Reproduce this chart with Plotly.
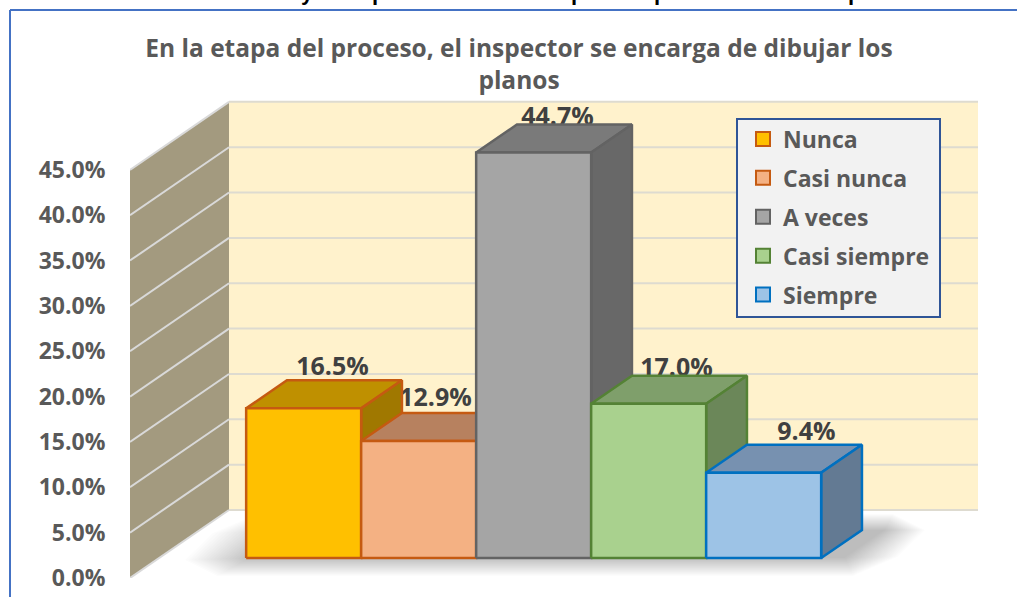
import plotly.graph_objects as go

# datos
CATEGORIES = ['Nunca', 'Casi nunca', 'A veces', 'Casi siempre', 'Siempre']
VALUES = [16.5, 12.9, 44.7, 17.0, 9.4]
TICK_VALUES = [0, 5, 10, 15, 20, 25, 30, 35, 40, 45]
TICK_LABELS = ['0.0%', '5.0%', '10.0%', '15.0%', '20.0%', '25.0%', '30.0%', '35.0%', '40.0%', '45.0%']
CUT_LETTERS = ['y', 'p', 'p', 'p', 'p']
TITLE = 'En la etapa del proceso, el inspector se encarga de dibujar los<br>planos'

# estilos de cada cara
FRONT = ['#FFC000', '#F4B183', '#A5A5A5', '#A9D18E', '#9DC3E6']
TOP = ['#BF9000', '#B7815F', '#7A7A7A', '#7F9F6B', '#7791B0']
SIDE = ['#A07800', '#93674C', '#686868', '#6B8759', '#637A93']
EDGE = ['#C55A11', '#C55A11', '#636363', '#548235', '#0070C0']

# escala: pixeles por unidad de los ejes
W, H = 1017, 597
LEFT, BOTTOM = 130, 19
PX_X, PX_Y = 115.0, 9.07
WALL_DX, WALL_DY = 99 / PX_X, 68 / PX_Y
WALL_WIDTH = 6.513
BAR_START = 0.757
DEPTH_FRONT, DEPTH_BACK = 0.294, 0.706
LABEL_NUDGE_X = [-12, -24, -17, -13, 2]
LABEL_NUDGE_Y = [12, 13, 6, 6, 11]
CUT_LETTER_X = [307, 378, 577, 660, 854]
SHADOW_STEPS = 22


def project(x, y, depth):
    return x + depth * WALL_DX, y + depth * WALL_DY


def face(points, fill, line=None, width=0):
    xs = [p[0] for p in points]
    ys = [p[1] for p in points]
    return go.Scatter(x=xs + xs[:1], y=ys + ys[:1], mode='lines', fill='toself', fillcolor=fill,
                      line=dict(color=line or fill, width=width), showlegend=False, hoverinfo='skip')


def wall_line(points, color):
    return go.Scatter(x=[p[0] for p in points], y=[p[1] for p in points], mode='lines',
                      line=dict(color=color, width=2), showlegend=False, hoverinfo='skip')


def shadow_points(l, r, b, u, s, c):
    # paralelogramo de piso con esquinas recortadas, en pixeles
    pts = [(l + c, b), (r - c, b), (r + c * 0.4, b - c * 0.6), (r + s, u + c * 0.5), (r + s - c, u),
           (l + s + c, u), (l + s - c * 0.4, u + c * 0.6), (l, b - c * 0.5)]
    return [((x - LEFT) / PX_X, (578 - y) / PX_Y) for x, y in pts]


fig = go.Figure()

# paredes
top = TICK_VALUES[-1]
fig.add_trace(face([project(0, 0, 0), project(0, 0, 1), project(0, top, 1), project(0, top, 0)], '#A39A7F'))
fig.add_trace(face([project(0, 0, 1), project(WALL_WIDTH, 0, 1), project(WALL_WIDTH, top, 1), project(0, top, 1)], '#FFF2CC'))
for t in TICK_VALUES:
    fig.add_trace(wall_line([project(0, t, 0), project(0, t, 1)], '#D9D9D9'))
    fig.add_trace(wall_line([project(0, t, 1), project(WALL_WIDTH, t, 1)], '#DEDBD0'))

# sombra del piso
for k in range(SHADOW_STEPS):
    t = k / (SHADOW_STEPS - 1)
    fig.add_trace(face(shadow_points(185 + 65 * t, 885 - 40 * t, 576 - 18 * t, 514 + 16 * t, 40, 32 * (1 - t)),
                       'rgba(0,0,0,0.011)'))

# etiquetas (quedan detras de las barras)
label_x = []
label_y = []
for i, v in enumerate(VALUES):
    x, y = project(BAR_START + i + 0.5, v, DEPTH_BACK)
    label_x.append(x + LABEL_NUDGE_X[i] / PX_X)
    label_y.append(y + LABEL_NUDGE_Y[i] / PX_Y)
fig.add_trace(go.Scatter(x=label_x, y=label_y, mode='text', text=[f'{v:.1f}%' for v in VALUES],
                         textposition='middle center', showlegend=False, hoverinfo='skip',
                         textfont=dict(family='Open Sans', size=25, color='#404040', weight='bold')))

# barras de izquierda a derecha
for i, v in enumerate(VALUES):
    x0 = BAR_START + i
    x1 = x0 + 1
    fig.add_trace(face([project(x0, v, DEPTH_FRONT), project(x1, v, DEPTH_FRONT),
                        project(x1, v, DEPTH_BACK), project(x0, v, DEPTH_BACK)], TOP[i], EDGE[i], 2.5))
    fig.add_trace(face([project(x1, 0, DEPTH_FRONT), project(x1, 0, DEPTH_BACK),
                        project(x1, v, DEPTH_BACK), project(x1, v, DEPTH_FRONT)], SIDE[i], EDGE[i], 2.5))
    fig.add_trace(face([project(x0, 0, DEPTH_FRONT), project(x1, 0, DEPTH_FRONT),
                        project(x1, v, DEPTH_FRONT), project(x0, v, DEPTH_FRONT)], FRONT[i], EDGE[i], 2.5))

# leyenda
for i, name in enumerate(CATEGORIES):
    fig.add_trace(go.Scatter(x=[None], y=[None], mode='markers', name=name, legendgroup=name,
                             marker=dict(symbol='square', size=14, color=FRONT[i],
                                         line=dict(color=EDGE[i], width=2))))

plot_w = W - LEFT
plot_h = H - BOTTOM


def paper_x(px):
    return (px - LEFT) / plot_w


def paper_y(py):
    return 1 - py / plot_h


shapes = [
    dict(type='rect', xref='paper', yref='paper', x0=paper_x(737), x1=paper_x(940), y0=paper_y(317), y1=paper_y(119),
         fillcolor='#F2F2F2', line=dict(color='#2F5597', width=2), layer='above'),
    dict(type='line', xref='paper', yref='paper', x0=paper_x(10), x1=paper_x(10), y0=paper_y(597), y1=paper_y(10),
         line=dict(color='#4472C4', width=2)),
    dict(type='line', xref='paper', yref='paper', x0=paper_x(10), x1=paper_x(1017), y0=paper_y(10), y1=paper_y(10),
         line=dict(color='#4472C4', width=2)),
]

annotations = [dict(text=c, xref='paper', yref='paper', x=paper_x(px), y=paper_y(-8), showarrow=False,
                    xanchor='center', yanchor='middle',
                    font=dict(family='Liberation Sans', size=22, color='#000000', weight='bold'))
               for c, px in zip(CUT_LETTERS, CUT_LETTER_X)]

fig.update_layout(
    width=W, height=H, margin=dict(l=LEFT, r=0, t=0, b=BOTTOM, pad=0),
    paper_bgcolor='white', plot_bgcolor='white', shapes=shapes, annotations=annotations,
    title=dict(text=TITLE, x=519 / W, xanchor='center', y=1 - 57 / H, yanchor='top',
               font=dict(family='Open Sans', size=24.5, color='#595959', weight='bold')),
    xaxis=dict(visible=False, range=[0, plot_w / PX_X]),
    yaxis=dict(range=[0, plot_h / PX_Y], tickvals=TICK_VALUES, ticktext=TICK_LABELS, showgrid=False,
               zeroline=False, showline=False, ticks='outside', ticklen=19, tickcolor='rgba(0,0,0,0)',
               tickfont=dict(family='Open Sans', size=23, color='#595959', weight='bold')),
    legend=dict(x=paper_x(743), y=paper_y(117.5), xanchor='left', yanchor='top', bgcolor='rgba(0,0,0,0)',
                borderwidth=0, tracegroupgap=6, itemclick=False, itemdoubleclick=False,
                font=dict(family='Open Sans', size=23, color='#595959', weight='bold')),
)

fig.write_html("out.html", config=dict(displayModeBar=False), post_script="document.body.style.margin='0';")
